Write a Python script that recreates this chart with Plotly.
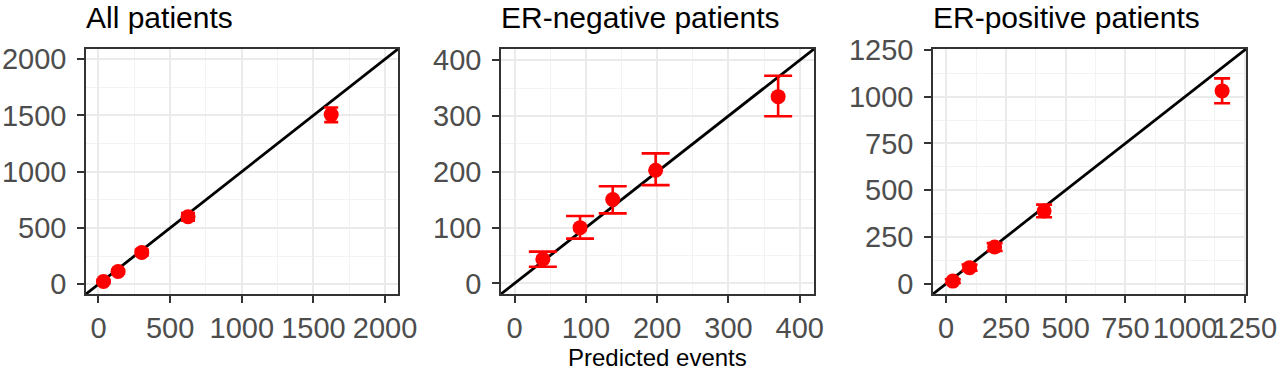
import plotly.graph_objects as go

W, H = 1280, 371

titles = ["All patients", "ER-negative patients", "ER-positive patients"]

# Panel 1: all patients
all_pred = [35, 137, 302, 625, 1624]
all_obs = [24, 113, 282, 599, 1507]
all_lo = [10, 95, 255, 565, 1440]
all_hi = [38, 131, 309, 633, 1570]

# Panel 2: ER-negative
neg_pred = [39.7, 91.9, 137.7, 197.9, 369.7]
neg_obs = [43.4, 99.9, 150.4, 202.7, 334.6]
neg_lo = [29.7, 80.2, 125.4, 176.0, 299.6]
neg_hi = [57.0, 120.7, 174.1, 233.0, 372.0]

# Panel 3: ER-positive
pos_pred = [28, 98, 203, 410, 1155]
pos_obs = [14, 86, 196, 389, 1031]
pos_lo = [4, 70, 175, 355, 965]
pos_hi = [24, 102, 217, 423, 1098]

tick_sets = [
    [0, 500, 1000, 1500, 2000],
    [0, 100, 200, 300, 400],
    [0, 250, 500, 750, 1000, 1250],
]
minor_steps = [250, 50, 125]
ranges = [[-87, 2090], [-19, 420], [-55, 1255]]
cap_widths = [7, 14, 8]

panels_px = [(86, 398), (501, 814), (933, 1246)]
y_top, y_bot = 49, 294

data = [
    (all_pred, all_obs, all_lo, all_hi),
    (neg_pred, neg_obs, neg_lo, neg_hi),
    (pos_pred, pos_obs, pos_lo, pos_hi),
]

fig = go.Figure()
RED = "#FF0000"
FONT = "Liberation Sans, Arial, sans-serif"

for i, (px, obs, lo, hi) in enumerate(data):
    xa = "x" if i == 0 else f"x{i+1}"
    ya = "y" if i == 0 else f"y{i+1}"
    r = ranges[i]
    # identity line y = x across the panel
    fig.add_trace(go.Scatter(
        x=r, y=r, mode="lines", line=dict(color="black", width=2.8),
        xaxis=xa, yaxis=ya, showlegend=False, hoverinfo="skip"))
    fig.add_trace(go.Scatter(
        x=px, y=obs, mode="markers",
        marker=dict(color=RED, size=15),
        error_y=dict(type="data", symmetric=False,
                     array=[h - o for h, o in zip(hi, obs)],
                     arrayminus=[o - l for o, l in zip(obs, lo)],
                     color=RED, thickness=2.6, width=cap_widths[i]),
        xaxis=xa, yaxis=ya, showlegend=False))

layout = dict(
    width=W, height=H,
    margin=dict(l=0, r=0, t=0, b=0),
    paper_bgcolor="white", plot_bgcolor="white",
    font=dict(family=FONT, color="#4D4D4D"),
)

for i in range(3):
    xk = "xaxis" if i == 0 else f"xaxis{i+1}"
    yk = "yaxis" if i == 0 else f"yaxis{i+1}"
    x0, x1 = panels_px[i]
    ya = "y" if i == 0 else f"y{i+1}"
    xa = "x" if i == 0 else f"x{i+1}"
    common = dict(
        range=ranges[i], tickmode="array", tickvals=tick_sets[i],
        ticktext=[str(v) for v in tick_sets[i]],
        showgrid=True, gridcolor="#EBEBEB", gridwidth=2,
        minor=dict(showgrid=True, gridcolor="#F3F3F3", gridwidth=1,
                   dtick=minor_steps[i], tick0=0, ticks=""),
        zeroline=False, showline=True, linecolor="#333333", linewidth=1.5,
        mirror=True, ticks="outside", ticklen=7, tickwidth=1.5,
        tickcolor="#333333", automargin=False,
        tickfont=dict(size=29, color="#4D4D4D", family=FONT),
    )
    layout[xk] = dict(common, domain=[x0 / W, x1 / W], anchor=ya, tickangle=0)
    layout[yk] = dict(common, domain=[1 - y_bot / H, 1 - y_top / H], anchor=xa,
                      ticklabelstandoff=5)

fig.update_layout(**layout)

for i, t in enumerate(titles):
    x0, x1 = panels_px[i]
    fig.add_annotation(text=t, xref="paper", yref="paper",
                       x=x0 / W - 2 / W, y=1 - 17 / H, xanchor="left", yanchor="middle",
                       showarrow=False,
                       font=dict(size=30, color="black", family=FONT))

fig.add_annotation(text="Predicted events", xref="paper", yref="paper",
                   x=(501 + 814) / 2 / W, y=1 - 357 / H,
                   xanchor="center", yanchor="middle", showarrow=False,
                   font=dict(size=24, color="black", family=FONT))

fig.write_html("out.html", config={"displayModeBar": False},
               post_script="document.body.style.margin='0px';"
                           "document.body.style.overflow='hidden';")
